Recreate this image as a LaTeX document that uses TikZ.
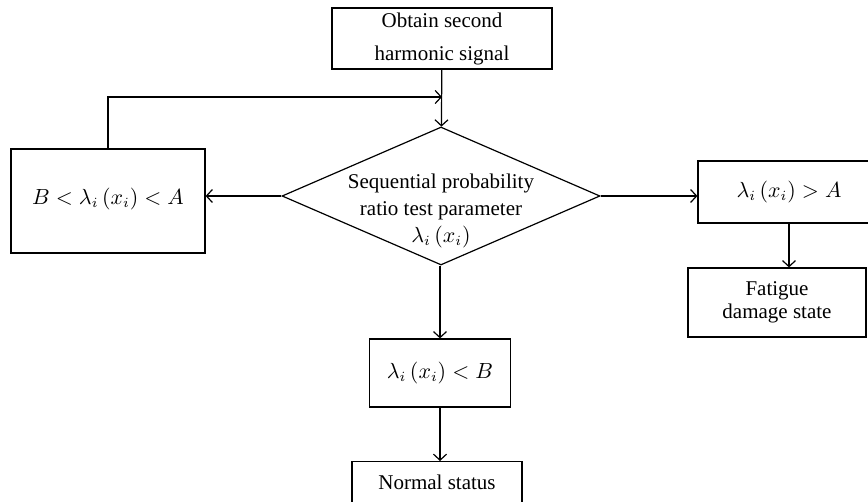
\documentclass[tikz,border=0pt]{standalone}
\usepackage{fontspec}
\setmainfont{Liberation Serif}
\usetikzlibrary{shapes.geometric}
\usetikzlibrary{arrows.meta}

\begin{document}
\begin{tikzpicture}[x=0.5pt,y=-0.5pt,line width=.6pt,
  box/.style={draw,black,inner sep=0pt,align=center,font=\fontsize{10.5}{#1}\selectfont},
  box/.default=12pt]
\def\l{3pt}
\def\w{6.5pt}
\useasboundingbox (0,0) rectangle (868,502);
\clip (0,0) rectangle (868,502);

\node [box=16.5pt, minimum width=110pt, minimum height=30.5pt, name=obtain] at (442,38.5) {Obtain second\\harmonic signal};
\node [draw,black,diamond,inner sep=0pt,minimum width=159pt,minimum height=69pt, name=sprt] at (441,196) {};
\node [align=center,font=\fontsize{10.5}{13.5}\selectfont, name=sprtext] at (441,211) {Sequential probability\\ratio test parameter\\$\lambda_i\,(x_i)$};
\node [box, minimum width=97pt, minimum height=52pt, text depth=5pt, name=cont] at (108,201) {$B<\lambda_i\,(x_i)<A$};
\node [box, minimum width=91pt, minimum height=31pt, name=upper] at (789,192) {$\lambda_i\,(x_i)>A$};
\node [box=11.5pt, minimum width=89pt, minimum height=34.5pt, name=fatigue] at (777,302.5) {Fatigue\\damage state};
\node [box, minimum width=70.5pt, minimum height=34pt, name=lower] at (440,373) {$\lambda_i\,(x_i)<B$};
\node [box, minimum width=85pt, minimum height=26pt, text depth=5pt, anchor=north, name=normal] at (437,461) {Normal status};
\coordinate (join) at (obtain.south |- 0,97);

\draw [-{Straight Barb[length=\l, width=\w]}](obtain) to (sprt);
\draw [-{Straight Barb[length=\l, width=\w]}](cont.north) |- (join);
\draw [-{Straight Barb[length=\l, width=\w]}](sprt.west) to (sprt.west -| cont.east);
\draw [-{Straight Barb[length=\l, width=\w]}](sprt.east) to (sprt.east -| upper.west);
\draw [-{Straight Barb[length=\l, width=\w]}](upper.south -| 789,0) to (fatigue.north -| 789,0);
\draw [-{Straight Barb[length=\l, width=\w]}](sprt.south -| lower) to (lower);
\draw [-{Straight Barb[length=\l, width=\w]}](lower) to (lower |- normal.north);
\end{tikzpicture}
\end{document}
